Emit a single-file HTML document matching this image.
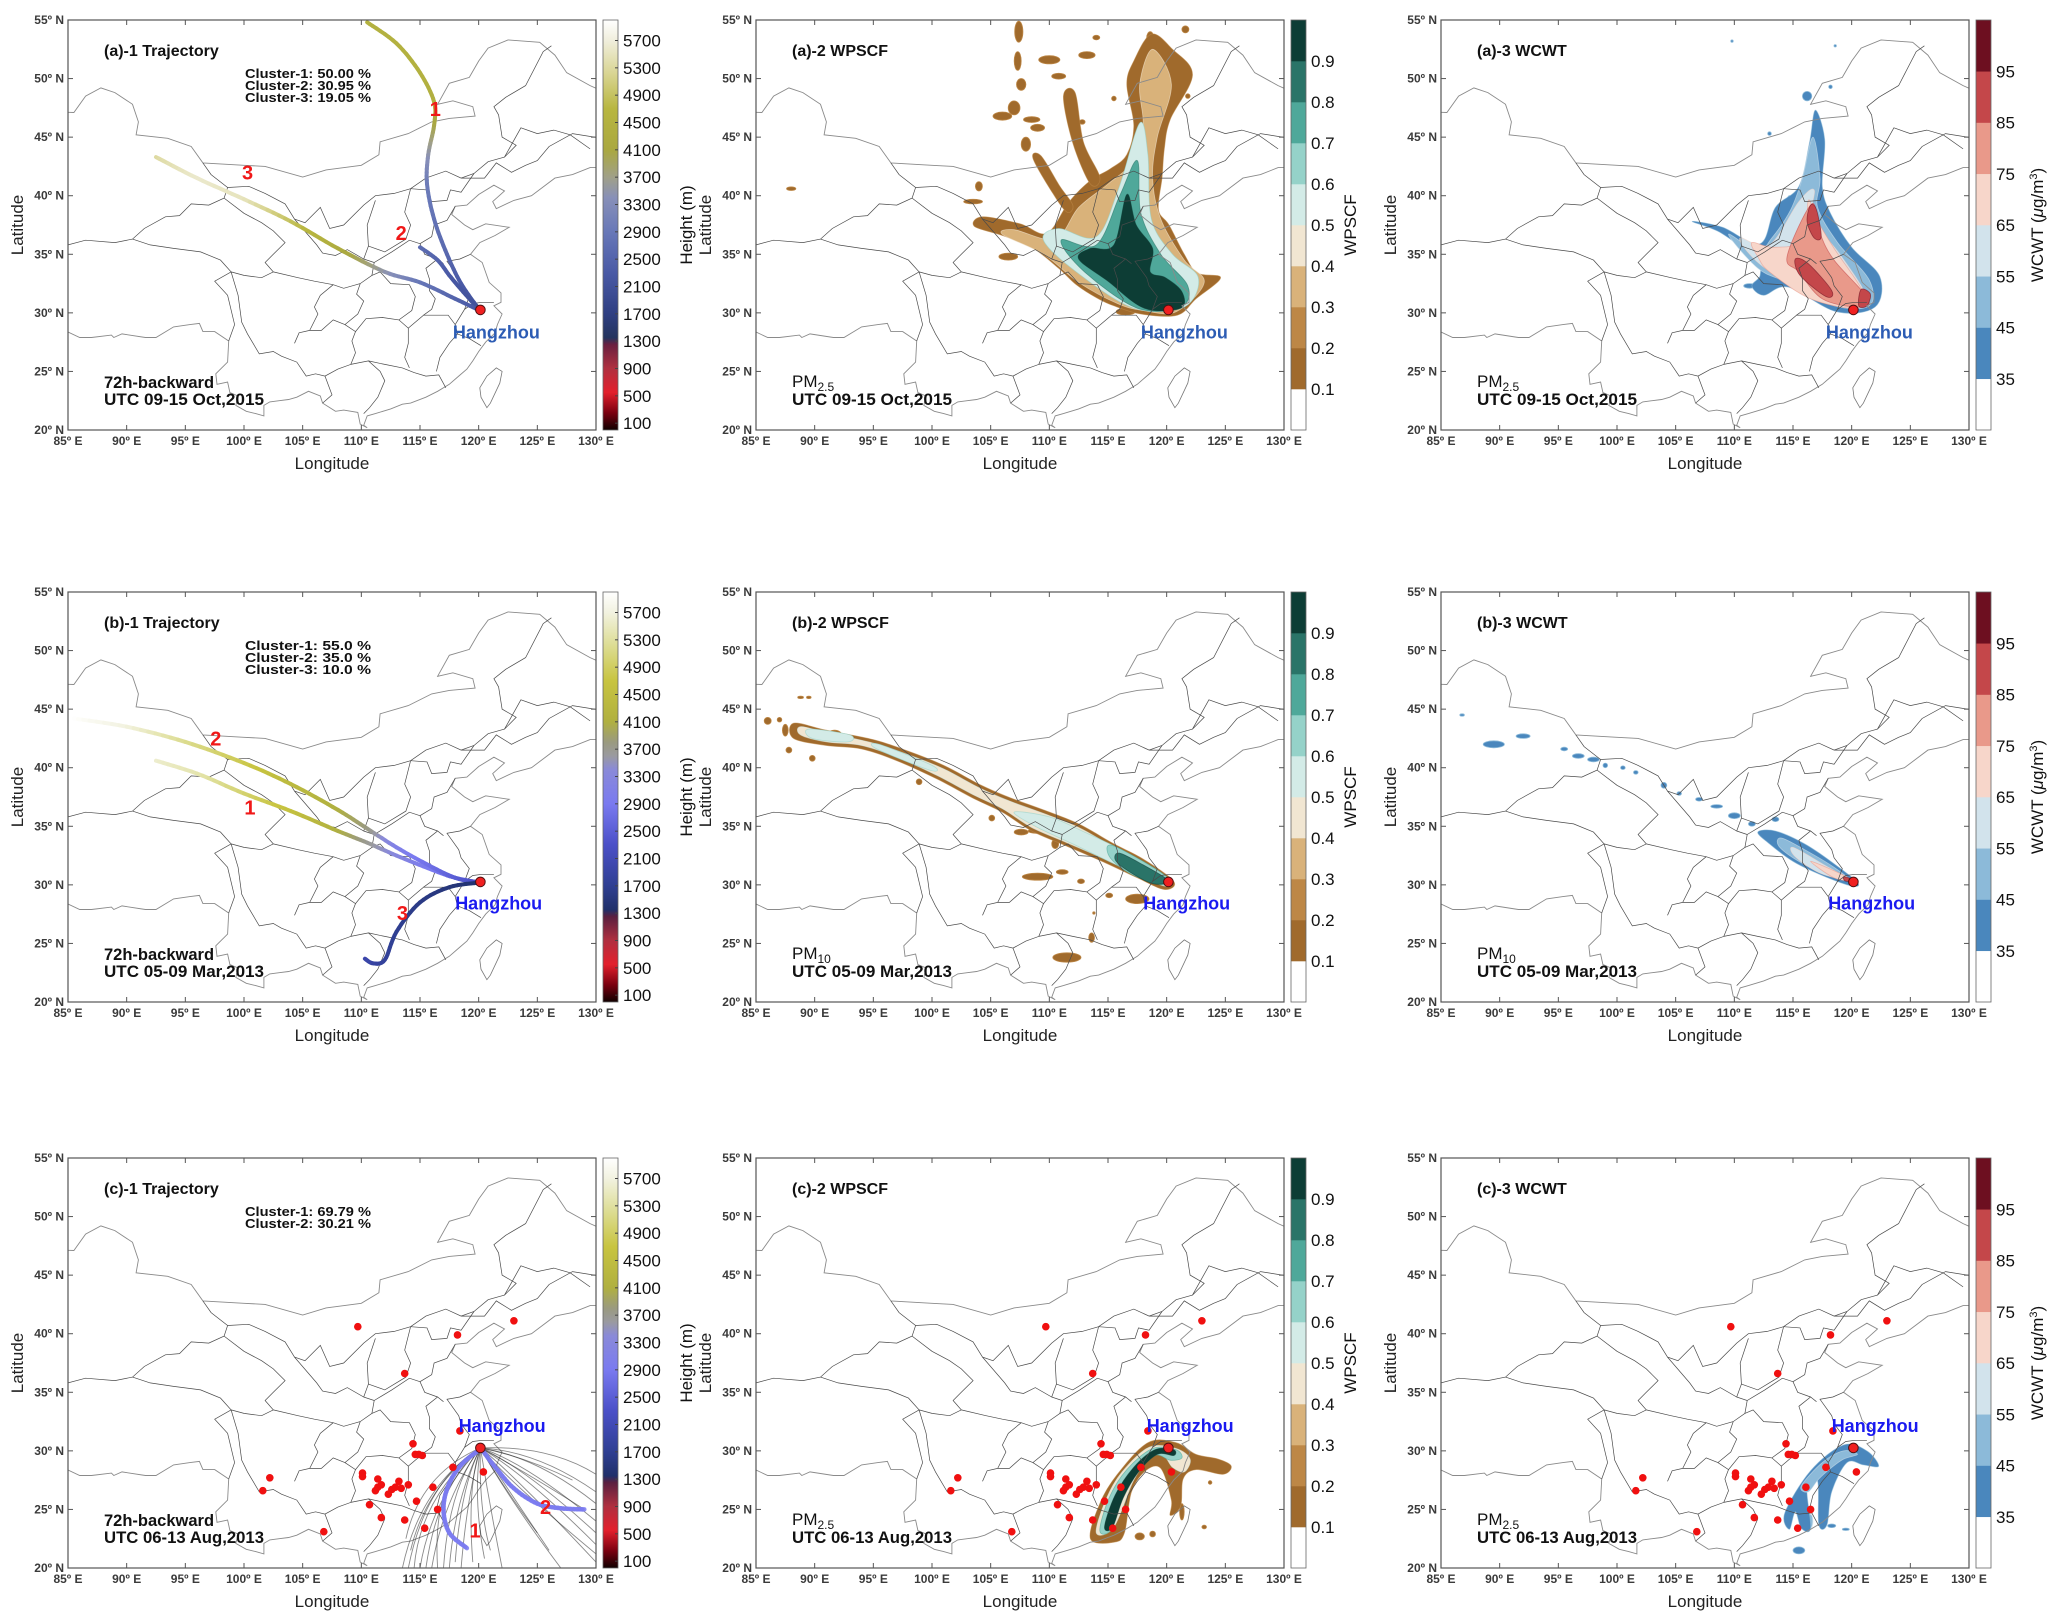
<!DOCTYPE html>
<html><head><meta charset="utf-8"><style>
html,body{margin:0;padding:0;background:#fff;}
svg{display:block;font-family:"Liberation Sans",sans-serif;}
</style></head><body>
<svg id="fig" width="2055" height="1624" viewBox="0 0 2055 1624" xmlns="http://www.w3.org/2000/svg"></svg>
<script>
// ---------------- DATA ----------------
const lonTicks=[85,90,95,100,105,110,115,120,125,130];
const latTicks=[20,25,30,35,40,45,50,55];
const trajCbLabels=[100,500,900,1300,1700,2100,2500,2900,3300,3700,4100,4500,4900,5300,5700];
const pscfCbLabels=[0.1,0.2,0.3,0.4,0.5,0.6,0.7,0.8,0.9];
const cwtCbLabels=[35,45,55,65,75,85,95];
const hangzhou=[120.15,30.25];
// a-1 trajectories [lon,lat,height]
const a1c1=[[110.5,54.8,4500],[113,53,4500],[115,50.5,4500],[116.2,48,4400],[116.2,46,4100],[115.7,43.5,3500],[115.6,41,3000],[116.2,38,2800],[117.3,35,2600],[118.5,32.5,2300],[120.1,30.2,2100]];
const a1c2=[[115,35.6,2700],[116.5,34.5,2500],[117.5,33.2,2300],[118.5,32,2200],[120.1,30.2,2100]];
const a1c3=[[92.5,43.3,5300],[96,41.5,5600],[100,39.7,5500],[104,37.8,4900],[108,35.5,4300],[112,33.5,3500],[115,32.6,2900],[118,31.2,2500],[120.1,30.2,2200]];
// b-1 trajectories
const b1c1=[[92.5,40.6,5600],[96,39.5,5400],[100,37.8,5000],[104,36.3,4600],[108,34.6,4100],[110.5,33.6,3700],[113,32.5,3300],[116,31.3,2900],[118,30.6,2600],[120.1,30.2,2300]];
const b1c2=[[85.5,44.2,6000],[90,43.5,5700],[95,42.2,5200],[100,40.4,4800],[104,38.6,4400],[108,36.4,4100],[110.5,34.8,3800],[113,33.2,3100],[115.5,31.8,2800],[118,30.6,2500],[120.1,30.2,2200]];
const b1c3=[[110.3,23.7,2000],[111,23.3,1900],[112,23.6,1800],[113,26,1700],[115,28.5,1600],[117.5,29.8,1500],[120.1,30.2,1400]];
// c-1 clusters
const c1c1=[[120.2,30.2,2300],[118.5,28.8,2500],[117.4,27,2700],[117,25,2800],[117.5,23,2800],[119,21.7,2800]];
const c1c2=[[120.2,30.2,2300],[121.5,28.5,2500],[123,26.8,2600],[125,25.5,2700],[127,25.1,2800],[129,25,2900]];
// c-1 individual trajectories: end lon, end lat, control lon, control lat
const bundleEndLon=[113.5,114,114.5,115,115.5,116,116.5,117,117.5,118,118.5,119.5,120.5,121,113.8,114.2,130,130,130,130,130,129,130,130,128,130,125,126,127,122];
const bundleEndLat=[20,20,20,20,20,20,20,20,20,20.5,20,20.5,20.8,21.5,22.5,21.5,20.5,21.2,22,23,24,25,25.5,26.5,27.5,28,23,21.5,20,20];
const bundleCtlLon=[115,115.5,115,116,116.5,117,116,117.5,118,118.5,119,119,119.5,120,115,115.5,123,123,124,124,124,123.5,125,125,124,126,122,123,122.5,121];
const bundleCtlLat=[27,27.5,26,26,27,26,28,27,26,27,26,27,26,25,28,27,28,27,28,28.5,29,28.5,29.5,30,29.5,30.5,27,26,26,25];
// pollution sites (lon, lat)
const siteLon=[109.7,123.0,118.2,113.7,118.4,114.4,114.9,114.6,115.2,117.8,120.4,110.1,110.1,111.4,111.4,111.7,111.2,113.2,112.9,112.6,112.3,113.4,114.0,116.1,114.7,116.5,110.7,111.7,113.7,115.4,106.8,102.2,101.6];
const siteLat=[40.6,41.1,39.9,36.6,31.7,30.6,29.7,29.7,29.6,28.6,28.2,28.1,27.8,27.6,26.9,27.1,26.6,27.4,26.9,26.7,26.3,26.8,27.1,26.9,25.7,25.0,25.4,24.3,24.1,23.4,23.1,27.7,26.6];
// contour regions: level index + lon/lat vertices
const a2Regions=[
 {lvl:1,pts:[[120.9,29.8],[122.5,31.2],[124.6,33.0],[122.6,33.4],[121.5,35],[120.2,37.5],[119.3,38.8],[119.6,41.5],[119.8,44],[120.3,46.5],[122.2,50.3],[120.5,52.5],[118.7,53.8],[117.2,51.5],[116.6,49.5],[117.2,46],[116.6,43.5],[115.2,42.3],[113.5,41.3],[111.7,39.5],[109.8,36.8],[107.5,37.6],[104.3,38.2],[103.6,37.4],[106,36.6],[108.5,35.6],[110.8,33.8],[112.3,32.4],[114,31.3],[115.5,30.6],[117.8,29.9]]},
 {lvl:3,pts:[[120.8,30.1],[123.2,32.6],[121.5,34.5],[119.5,38],[118.8,41.5],[119.2,45],[120.4,49.5],[118.8,52.5],[117.7,49.5],[118,46],[117.2,43],[115,41],[112.5,39],[110.5,36.3],[107,37.1],[106,36.7],[109.5,35],[112.5,32.6],[115.8,30.8],[118,30.2]]},
 {lvl:5,pts:[[117.7,46.2],[118.4,43.5],[118.7,38],[120.5,35],[122.7,33],[121.5,30.5],[117.2,30.4],[112.3,33.5],[109.5,36.2],[110.8,37.2],[114,36.5],[115.9,40.6]]},
 {lvl:7,pts:[[117.5,43],[117.8,38.5],[119.5,35],[121.8,32.3],[121.2,30.5],[117.5,30.4],[113,33.5],[111,36.2],[114,35.8],[116,40]]},
 {lvl:9,pts:[[116.6,40.1],[117.4,37.5],[118.8,35.5],[118.6,33.5],[119.9,33.0],[121.3,31.8],[121.2,30.4],[118.1,30.4],[115,32.7],[112.5,34.6],[113.5,35.5],[115.5,35.8]]},
 {lvl:1,pts:[[111.2,48.5],[112,44.5],[113.5,41],[114.3,41.6],[112.9,44.6],[112.2,48.8]]},
 {lvl:1,pts:[[108.6,43.2],[110.3,40.2],[111.5,38.6],[112,39.2],[110.9,40.8],[109.3,43.4]]}];
const a2Blobs=[[107.4,54.0,0.35,0.9,1],[107.3,51.5,0.3,0.8,1],[107.6,49.5,0.4,0.5,1],[110,51.6,0.9,0.35,1],[110.8,50.2,0.6,0.25,1],[107.0,47.5,0.5,0.6,1],[108.5,46.5,0.7,0.25,1],[106,46.8,0.8,0.35,1],[109,45.8,0.6,0.3,1],[108.0,44.4,0.4,0.6,1],[88,40.6,0.4,0.15,1],[104,40.8,0.3,0.4,1],[103.5,39.5,0.8,0.2,1],[118.6,53.5,0.3,0.5,1],[121.6,54.2,0.3,0.3,1],[114,53.5,0.3,0.2,1],[113.2,52,0.7,0.3,1],[112.8,46.3,0.25,0.2,1],[115.5,48.3,0.2,0.2,1],[121.8,48.5,0.2,0.2,1],[106.5,34.8,0.8,0.3,1],[116.5,30.1,0.8,0.3,1]];
const a3Regions=[
 {lvl:1,pts:[[106.4,37.8],[108.9,36.8],[111.8,34.5],[112.2,33.2],[111.5,32.3],[112.5,31.5],[114.6,32.2],[118.7,30.1],[122,30.5],[122.4,33.1],[120,35.6],[118.2,38.5],[117.5,40.8],[117.7,44.8],[116.9,47.3],[116.4,44.5],[115.5,40.8],[113.5,39],[112.2,35.9],[109,37.3]]},
 {lvl:2,pts:[[109.5,36.7],[112,35.3],[113.2,36.4],[114.8,38.8],[115.8,41.5],[116.7,45],[117.3,41.5],[117.1,39],[118.8,36],[121.5,32.8],[121.5,30.6],[118.5,30.6],[114.5,32.6],[112,33.8]]},
 {lvl:3,pts:[[110.5,36.4],[113,35.8],[115.5,39.5],[116.8,40.5],[116.7,38],[119,35],[121.2,31.5],[120.3,30.5],[117,31.2],[113.5,33.2],[111.5,34.8]]},
 {lvl:4,pts:[[111.5,36],[113.3,35.6],[115.9,36.2],[116.3,39.6],[117,38],[118.5,35.5],[121,31.7],[120.4,30.4],[116.5,31.2],[113,33.5],[112,34.8]]},
 {lvl:5,pts:[[114.5,34.8],[116.6,39.3],[117.3,36.8],[118.5,34.5],[121.4,31.2],[120.5,30.5],[117.5,31.2],[115.5,33.5]]},
 {lvl:6,pts:[[115.2,34.6],[116.3,34.2],[118.3,31.9],[117.8,31.4],[115.6,33.2]]},
 {lvl:6,pts:[[116.5,39.2],[117,38.8],[117.4,36.5],[116.8,36.4],[116.2,37.8]]},
 {lvl:6,pts:[[120.8,32],[121.6,31.6],[121.3,30.6],[120.6,30.6]]}];
const a3Blobs=[[116.2,48.5,0.4,0.4,1],[118.2,49.3,0.15,0.15,1],[113,45.3,0.15,0.15,1],[109.8,53.2,0.1,0.1,1],[118.6,52.8,0.1,0.1,1],[114.7,39.6,0.2,0.4,1],[113.6,37.5,0.2,0.4,1],[111.3,32.3,0.5,0.2,1],[117.4,36.8,0.4,0.25,3]];
const b2Regions=[
 {lvl:1,pts:[[88.2,43.8],[91,43.2],[95,42.4],[98,41.4],[101,40.2],[104,38.6],[106.5,37.5],[109.5,36.4],[112.5,35.2],[115.5,33.5],[118,32.2],[120.6,30.3],[119.8,29.6],[117.5,30.6],[114.5,32],[111.5,33.3],[108.5,34.6],[106,36.2],[103.5,37.4],[100.5,39],[97,40.6],[94,41.6],[91,41.9],[88.2,42.5]]},
 {lvl:4,pts:[[88.8,43.5],[91,43],[95,42.1],[98,41.1],[101,39.9],[104,38.3],[106.5,37.2],[109.5,36.1],[112.5,34.9],[115.5,33.2],[118,31.9],[120.3,30.3],[119.8,29.9],[117.5,30.9],[114.5,32.3],[111.5,33.6],[108.5,34.9],[106,36.5],[103.5,37.7],[100.5,39.3],[97,40.9],[94,41.9],[91,42.2],[88.8,42.8]]},
 {lvl:5,pts:[[89.5,43.3],[93,42.8],[92.8,42.2],[89.8,42.5]]},
 {lvl:5,pts:[[95.5,42],[100,40.2],[99.8,39.8],[95.3,41.6]]},
 {lvl:5,pts:[[107,36.2],[110,35.8],[113,34.5],[116.5,32.8],[119.5,30.8],[119.9,30.2],[118.5,30.4],[115.5,31.8],[112,33.5],[109,34.9]]},
 {lvl:6,pts:[[115.2,33.4],[118,32],[120.2,30.5],[119.6,30],[117,30.9],[115.2,32.3]]},
 {lvl:8,pts:[[116,32.7],[118,31.7],[120,30.5],[119.8,30.1],[118.5,30.2],[116.4,31.4],[115.6,32.2]]}];
const b2Blobs=[[86,44,0.3,0.3,1],[87,44.1,0.2,0.2,1],[87.5,43.2,0.25,0.5,1],[87.8,41.5,0.25,0.25,1],[89.8,40.8,0.25,0.25,1],[88.8,46,0.25,0.1,1],[89.5,46,0.2,0.1,1],[91.7,42.8,0.6,0.4,1],[98.9,38.8,0.25,0.25,1],[105.1,35.7,0.25,0.25,1],[107.6,34.5,0.6,0.25,1],[108.9,34.6,0.7,0.2,1],[110.5,33.5,0.3,0.4,1],[109,30.7,1.3,0.3,1],[111.1,31.1,0.5,0.2,1],[112.7,30.3,0.3,0.2,1],[117.5,28.8,1,0.4,1],[115.1,29.1,0.3,0.2,1],[113.6,25.5,0.25,0.4,1],[111.5,23.8,1.2,0.4,1],[113.8,27.6,0.1,0.1,1]];
const b3Regions=[
 {lvl:1,pts:[[113.5,34.6],[116,33.5],[118.5,31.8],[120.5,30.2],[120,29.9],[117.5,30.8],[115,32],[113,33.5],[112,34.5]]},
 {lvl:2,pts:[[114,34],[116,33],[118.5,31.5],[119.8,30.4],[118,30.8],[115.5,32],[113.8,33.3]]},
 {lvl:3,pts:[[115,33.2],[117.5,31.8],[119.6,30.5],[117.3,31],[115.2,32.4]]},
 {lvl:4,pts:[[116.5,32],[118.5,31.2],[120,30.4],[118.5,30.6]]},
 {lvl:6,pts:[[119.3,30.7],[120.2,30.4],[119.5,30.3]]}];
const b3Blobs=[[89.5,42,0.9,0.3,1],[92,42.7,0.6,0.2,1],[96.7,41,0.5,0.2,1],[98,40.7,0.5,0.2,1],[95.5,41.6,0.3,0.15,1],[99,40.2,0.2,0.2,1],[100.5,40,0.2,0.15,1],[101.6,39.6,0.2,0.15,1],[104,38.5,0.25,0.25,1],[105.3,37.8,0.2,0.15,1],[107,37.3,0.3,0.15,1],[108.5,36.7,0.5,0.15,1],[110,35.9,0.5,0.25,1],[111.5,35.2,0.3,0.2,1],[86.8,44.5,0.2,0.1,1],[113.5,35.6,0.3,0.2,1],[112.8,34.3,0.6,0.3,1]];
const c2Regions=[
 {lvl:1,pts:[[113.5,22.5],[114.3,25.5],[115.8,28],[118.4,30.7],[120.8,30.7],[122.5,29.7],[124.4,29.3],[125.5,28.7],[124.8,28],[122.5,28.4],[121.4,27.6],[121.2,25.3],[120.3,24.5],[120.4,25.8],[119.5,28.5],[118.2,28.3],[117,26.5],[116.4,23],[115.5,22.2]]},
 {lvl:4,pts:[[114,23],[114.8,25.8],[116.2,28.2],[118.5,30.3],[120.8,30.2],[122,29.3],[121.5,28.2],[120.5,28.6],[119.8,29.5],[118.7,29.5],[117.2,27.5],[115.5,23.5]]},
 {lvl:6,pts:[[114.3,23.2],[115.1,26],[116.6,28.4],[118.8,30.2],[120.8,30.1],[121.3,29.4],[120.3,29.2],[119,29.6],[117.3,28],[116,25.5],[115.2,23.2]]},
 {lvl:9,pts:[[114.7,23.5],[115.6,26.2],[117.2,28.6],[119,30.1],[120.6,30.1],[120.6,29.6],[119.2,29.7],[117.6,28.2],[116.3,26],[115.4,23.5]]}];
const c2Blobs=[[117.7,22.7,0.4,0.3,1],[118.8,22.9,0.25,0.25,1],[123.2,23.5,0.2,0.15,1],[121.3,24.8,0.2,0.7,1],[123.7,27.3,0.15,0.15,1]];
const c3Regions=[
 {lvl:1,pts:[[114.3,24.7],[116.5,28.3],[119.3,30.5],[121.3,30.0],[122.3,28.7],[121,28.8],[119.6,29],[118.3,26.5],[117.9,23.7],[117.2,23.7],[117.1,27.4],[116.2,26.8],[116.5,23.4],[115.7,23.4],[115.2,24.8],[114.7,23.3]]},
 {lvl:2,pts:[[115.7,27],[117.5,29],[119.3,30],[120.5,29.7],[119.3,29.3],[118.2,28.5],[117.2,27.6],[116.3,26.5]]}];
const c3Blobs=[[115.5,21.5,0.5,0.3,1],[118.3,23.6,0.35,0.15,1],[119.5,23.3,0.3,0.1,1],[116.5,24,0.2,0.6,2],[117.8,28.4,0.3,0.4,3]];
// ---------------- MAP GEOMETRY ----------------
const chinaOutline=[[73.5,39.5],[75,40.6],[80,42.2],[80.3,44.8],[82.5,45.3],[83,47.2],[85.5,47.1],[86.5,48.5],[87.8,49.2],[89,48.8],[90.5,47.8],[91,46.3],[90.8,45.2],[93.5,44.9],[95.5,44.2],[96.5,42.8],[100,42.6],[101.8,42.5],[105,41.6],[107,42.2],[110,42.6],[111.5,43.5],[111.6,44.6],[114,45.3],[116,46.3],[117.5,46.6],[119.7,46.8],[119.5,47.6],[117.8,48.1],[116.5,47.8],[117.5,49.6],[119.2,50.1],[120,51.5],[120.8,52.6],[122.5,53.3],[125.2,53.1],[126.5,52],[127.5,50.5],[129.5,49.4],[130.8,48.8],[130.7,47.6],[132.5,47.7],[134.7,48.3],[134,46.5],[133,45],[131.2,45],[131,43.5],[130.6,42.4],[129.5,42.4],[128,41.8],[126.5,41.5],[124.5,40],[123,39.6],[121.5,38.9],[121.2,39.5],[122.2,40.4],[121.3,40.9],[120,40.1],[119,39.2],[118,39.1],[117.7,38.4],[118.8,37.5],[119.5,37.1],[120.6,37.6],[122.6,37.3],[121.4,36.6],[120.1,36],[119.3,35],[120.3,34.3],[120.9,32.6],[121.9,31.7],[121.9,30.9],[121.3,30.6],[122,29.9],[121.6,29],[121.4,28.3],[120.6,27.5],[120,26.7],[119.5,25.9],[119,25.2],[118.3,24.6],[117.5,23.9],[116.5,23.3],[115.5,22.8],[114.2,22.3],[113.5,22.2],[112.5,21.8],[111.2,21.4],[110.5,21.2],[110.2,20.4],[110.5,20.2],[109.9,20.5],[109.7,21.5],[108.5,21.7],[107.8,21.6],[106.7,22.3],[106.5,22.9],[105.5,23.3],[104.5,22.8],[103.8,22.6],[103,22.5],[102.2,22.4],[101.7,22.1],[101.7,21.2],[101,21.4],[100.2,21.6],[99.3,22.1],[99.5,22.9],[98.8,23.2],[98.6,24.1],[97.7,23.9],[97.6,24.8],[98.6,25.8],[98.7,27.6],[97.5,28.4],[96.5,28.4],[96.2,29.1],[95.4,29],[94,28.8],[92.5,27.9],[91.6,27.9],[89.6,28.2],[88.9,27.9],[88.7,28.1],[87,27.9],[86,27.9],[84.5,28.6],[82,30.2],[81,30.2],[79,31.5],[78.8,32.5],[79.5,34.5],[77.8,35.5],[76,36.6],[75,37.3],[73.5,39.5]];
const taiwan=[[121.5,25.3],[122,25],[121.8,24],[121,22.3],[120.7,21.9],[120.2,22.8],[120.1,23.6],[120.7,24.6]];
const provLines=[
[[85,35.8],[86.5,36.2],[89,36],[90.5,36.3],[91.5,37.2],[93.3,38.2],[94.5,38.3],[95.5,39.3],[97,39.2],[98.3,39.8],[98.6,40.7],[97.2,41.8],[96.5,42.8]],
[[90.5,36.3],[92,35.8],[94,35.5],[96.3,35.2],[98,34.5],[98.9,33.5],[97.5,32.7],[98.6,31.5],[99.2,29],[98.7,27.6]],
[[98.3,39.8],[100,38.5],[101.5,37.7],[102.5,37],[103.5,36],[102.5,35],[101.8,34.3],[102.5,33.5],[101.5,33],[100,33.2],[98.9,33.5]],
[[98.6,40.7],[100.4,40.8],[101.8,40.2],[103.5,39.3],[104.3,38],[105.2,37.7],[106.5,39],[107.3,37.2],[108.5,37.5],[110.2,39.2],[111.2,40],[112.8,40.2],[114.2,40.6],[115.5,41.5],[117.2,42.1],[118.5,41.5],[119.6,41.9],[120.8,42.9],[122.2,43.3],[123.2,44.3],[122,45],[121.7,46.9],[121.3,47.6],[122.3,48.4],[124,49.4],[125.5,52.3],[126.2,52.8]],
[[104.3,38],[106.2,35.8],[106.7,35.1],[107.8,34.9],[108.8,35.4],[110.2,34.6],[110.6,35.7],[110.5,37.5],[111.2,39.6]],
[[102.5,33.5],[104.6,33],[106,32.7],[107.6,32.4],[108.5,32.1],[109.9,32.5],[110.9,33.2],[111.1,34.3],[110.2,34.6]],
[[98.9,33.5],[99.5,31.5],[99.8,29.2],[100.3,28.2],[101.3,26.5],[102.5,26.7],[103.2,26.3],[104.5,25.8],[105.3,24.6],[106.1,24.8],[106.9,24.6],[108,25.2],[109.1,25.6],[109.5,26.6],[109.2,27.6],[109.5,28.4],[108.6,29],[107.6,29.4],[106.6,28.5],[105.6,28.5],[104.7,28.3],[104.3,27.4]],
[[105.6,28.5],[106.3,29.9],[106,30.5],[106.5,31.5],[107.6,32.4]],
[[108.6,29],[109.7,29.9],[110.2,31],[109.6,31.6],[109.9,32.5]],
[[106.9,24.6],[107.5,23],[106.7,22.3]],
[[109.1,25.6],[110.6,25.9],[111.6,25],[112,24.2],[111.4,22.8],[110.7,21.9],[110.2,21.4]],
[[110.6,25.9],[112,25.6],[113.5,25.3],[114.5,24.9],[115.5,24.6],[116.6,24.7],[117.2,23.6]],
[[109.5,28.4],[110.4,29.5],[111.8,29.6],[113.2,29.4],[114,28.7],[114,27.4],[113.7,26.2],[114.1,25.3]],
[[114,28.7],[115.3,29.8],[116.3,29.8],[117.4,29.8],[118,29],[118.2,28.2],[117.5,27.4],[116.7,26.2],[116.4,25]],
[[118.2,28.2],[119.2,27.8],[120.2,27.2]],
[[113.2,29.4],[114.3,30.2],[114.6,31.4],[114.1,32.4],[112.5,32.5],[111.6,33.5],[110.9,33.2]],
[[115.3,29.8],[116,30.3],[116.3,31.2],[115.8,31.9],[115.8,32.9],[115.5,33.8],[116.5,34.6],[117,34.2]],
[[118,29],[118.8,30.3],[119.5,30.8],[120.3,30.9],[121.3,30.9]],
[[118.8,30.3],[119.2,31.4],[118.5,32.3],[118.3,33],[117.3,34.4],[118.4,34.6],[119.3,35]],
[[116.5,34.6],[115.4,35],[115,35.9],[116,36.5],[116.2,37.5],[117.3,37.9],[118,39.1]],
[[110.6,35.7],[112,35.2],[113.8,36.3],[114.2,37.5],[113.7,38.6],[114.2,40.6]],
[[111.1,34.3],[112.6,35.2],[114.1,36.2],[115,35.9]],
[[114.2,40.6],[115.6,40.5],[116,39.5],[117.3,39.6],[117.6,40.5],[118.5,40.3],[119.6,41.9]],
[[118.5,41.5],[120.5,41.5],[121.5,42.8],[122.8,42],[124,42.6],[125,43],[126,44.2],[128,45.3],[130.5,44.9]],
[[122.2,43.3],[123.6,45.8],[125,45.3],[126.4,45.6],[127.8,45.2],[129.5,44]]];
// colour scales
const pscfColors=['#ffffff','#a06a2c','#bd8746','#d9b27a','#f1e6d2','#d3ebe7','#95d2c9','#4fa89a','#2a7468','#0d3d35'];
const cwtColors=['#ffffff','#4a87bd','#8cbad9','#d2e3ec','#f7d6ca','#e9998a','#c4474a','#6d0f20'];
const trajStopsA=[[0,'#100000'],[250,'#7a0010'],[550,'#e3202c'],[900,'#b03040'],[1250,'#6a2040'],[1350,'#24345e'],[1700,'#2f3f82'],[2300,'#4a5aa6'],[2900,'#6878b8'],[3400,'#8890b8'],[3700,'#a0a088'],[4100,'#aaa840'],[4700,'#b8b640'],[5200,'#d8d490'],[5700,'#f0eedc'],[6000,'#ffffff']];
const trajStopsB=[[0,'#100000'],[250,'#7a0010'],[550,'#e3202c'],[900,'#b03040'],[1250,'#5a2040'],[1350,'#20306a'],[1700,'#2f3f92'],[2300,'#4b50c8'],[2900,'#7a7af0'],[3400,'#8a8ad8'],[3600,'#9a9aa0'],[3800,'#9a9a80'],[4100,'#b0b040'],[4700,'#c8c440'],[5200,'#dcdc90'],[5700,'#f2f2e0'],[6000,'#ffffff']];

// ---------------- HELPERS ----------------
const NS='http://www.w3.org/2000/svg';
const svg=document.getElementById('fig');
function el(tag,attrs,parent){const e=document.createElementNS(NS,tag);for(const k in attrs)e.setAttribute(k,attrs[k]);(parent||svg).appendChild(e);return e;}
const W=528,H=410;
const colX=[68,756,1441], rowY=[20,592,1158];
function proj(P,lon,lat){return [P.x+(lon-85)/45*W, P.y+(55-lat)/35*H];}
function r1(v){return Math.round(v*10)/10;}
function smooth(p,closed){
  const n=p.length;let d='M'+r1(p[0][0])+','+r1(p[0][1]);
  const g=i=>closed?p[(i+n)%n]:p[Math.max(0,Math.min(n-1,i))];
  const segs=closed?n:n-1;
  for(let i=0;i<segs;i++){const a=g(i-1),b=g(i),c=g(i+1),e=g(i+2);
    d+='C'+r1(b[0]+(c[0]-a[0])/6)+','+r1(b[1]+(c[1]-a[1])/6)+' '+r1(c[0]-(e[0]-b[0])/6)+','+r1(c[1]-(e[1]-b[1])/6)+' '+r1(c[0])+','+r1(c[1]);}
  return closed?d+'Z':d;}
function poly(p){return 'M'+p.map(q=>r1(q[0])+','+r1(q[1])).join('L');}
function hex2rgb(h){return [parseInt(h.substr(1,2),16),parseInt(h.substr(3,2),16),parseInt(h.substr(5,2),16)];}
function cmap(stops,v){v=Math.max(stops[0][0],Math.min(stops[stops.length-1][0],v));
  for(let i=1;i<stops.length;i++){if(v<=stops[i][0]){const t=(v-stops[i-1][0])/(stops[i][0]-stops[i-1][0]||1);
    const a=hex2rgb(stops[i-1][1]),b=hex2rgb(stops[i][1]);return 'rgb('+a.map((x,k)=>Math.round(x+(b[k]-x)*t)).join(',')+')';}}
  return stops[stops.length-1][1];}

// ---------------- PANELS ----------------
const panels=[
 {id:'a1',r:0,c:0,type:'traj',title:'(a)-1  Trajectory',stops:trajStopsA,clusters:['Cluster-1: 50.00 %','Cluster-2: 30.95 %','Cluster-3: 19.05 %'],bottom1:'72h-backward',bottom2:'UTC 09-15 Oct,2015',hzColor:'#2c5cb4',hzPos:[117.8,27.8],tr:[a1c1,a1c2,a1c3],nums:[['1',116.3,47.4],['2',113.4,36.8],['3',100.3,42.0]]},
 {id:'a2',r:0,c:1,type:'pscf',title:'(a)-2  WPSCF',regions:a2Regions,blobs:a2Blobs,pm:'2.5',bottom2:'UTC 09-15 Oct,2015',hzColor:'#2c5cb4',hzPos:[117.8,27.8]},
 {id:'a3',r:0,c:2,type:'cwt',title:'(a)-3  WCWT',regions:a3Regions,blobs:a3Blobs,pm:'2.5',bottom2:'UTC 09-15 Oct,2015',hzColor:'#2c5cb4',hzPos:[117.8,27.8]},
 {id:'b1',r:1,c:0,type:'traj',title:'(b)-1  Trajectory',stops:trajStopsB,clusters:['Cluster-1: 55.0 %','Cluster-2: 35.0 %','Cluster-3: 10.0 %'],bottom1:'72h-backward',bottom2:'UTC 05-09 Mar,2013',hzColor:'#1a1af0',hzPos:[118.0,27.9],tr:[b1c1,b1c2,b1c3],nums:[['2',97.6,42.5],['1',100.5,36.6],['3',113.5,27.6]]},
 {id:'b2',r:1,c:1,type:'pscf',title:'(b)-2  WPSCF',regions:b2Regions,blobs:b2Blobs,pm:'10',bottom2:'UTC 05-09 Mar,2013',hzColor:'#1a1af0',hzPos:[118.0,27.9]},
 {id:'b3',r:1,c:2,type:'cwt',title:'(b)-3  WCWT',regions:b3Regions,blobs:b3Blobs,pm:'10',bottom2:'UTC 05-09 Mar,2013',hzColor:'#1a1af0',hzPos:[118.0,27.9]},
 {id:'c1',r:2,c:0,type:'traj',title:'(c)-1  Trajectory',stops:trajStopsB,clusters:['Cluster-1: 69.79 %','Cluster-2: 30.21 %'],bottom1:'72h-backward',bottom2:'UTC 06-13 Aug,2013',hzColor:'#1a1af0',hzPos:[118.3,31.6],tr:[c1c1,c1c2],bundle:true,sites:true,nums:[['1',119.7,23.2],['2',125.7,25.2]]},
 {id:'c2',r:2,c:1,type:'pscf',title:'(c)-2  WPSCF',regions:c2Regions,blobs:c2Blobs,pm:'2.5',bottom2:'UTC 06-13 Aug,2013',hzColor:'#1a1af0',hzPos:[118.3,31.6],sites:true},
 {id:'c3',r:2,c:2,type:'cwt',title:'(c)-3  WCWT',regions:c3Regions,blobs:c3Blobs,pm:'2.5',bottom2:'UTC 06-13 Aug,2013',hzColor:'#1a1af0',hzPos:[118.3,31.6],sites:true}];

const defs=el('defs',{});
panels.forEach(cfg=>{
  const P={x:colX[cfg.c],y:rowY[cfg.r]};
  const g=el('g',{});
  
  
  const cp=el('clipPath',{id:'clip-'+cfg.id},defs);
  el('rect',{x:P.x,y:P.y,width:W,height:H},cp);
  const plot=el('g',{'clip-path':'url(#clip-'+cfg.id+')'},g);
  
  
  const colors=cfg.type==='pscf'?pscfColors:cwtColors;
  if(cfg.regions){
    const cg=el('g',{},plot);
    
    
    cfg.blobs.forEach(b=>{const c=proj(P,b[0],b[1]);
      const e=el('ellipse',{cx:r1(c[0]),cy:r1(c[1]),rx:r1(b[2]*W/45),ry:r1(b[3]*H/35),fill:colors[b[4]],stroke:colors[Math.min(b[4]+1,colors.length-1)],'stroke-width':0.8},cg);
      
      });
    cfg.regions.forEach(rg=>{const pts=rg.pts.map(q=>proj(P,q[0],q[1]));
      const e=el('path',{d:smooth(pts,true),fill:colors[rg.lvl],stroke:colors[Math.min(rg.lvl+1,colors.length-1)],'stroke-width':0.8,'stroke-opacity':0.6},cg);
      
      });
  }
  const bg=el('g',{fill:'none'},plot);
  
  
  el('path',{d:poly(chinaOutline.map(q=>proj(P,q[0],q[1]))),stroke:'#8a8a8a','stroke-width':0.9},bg);
  el('path',{d:poly(taiwan.map(q=>proj(P,q[0],q[1])))+'Z',stroke:'#777','stroke-width':0.8},bg);
  provLines.forEach(l=>el('path',{d:poly(l.map(q=>proj(P,q[0],q[1]))),stroke:'#4a4a4a','stroke-width':0.7},bg));
  if(cfg.bundle){
    const tg=el('g',{fill:'none',stroke:'rgba(40,40,40,0.55)','stroke-width':0.9},plot);
    
    
    const h=proj(P,hangzhou[0],hangzhou[1]);
    bundleEndLon.forEach((lon,i)=>{const e=proj(P,lon,bundleEndLat[i]),c=proj(P,bundleCtlLon[i],bundleCtlLat[i]);
      const p=el('path',{d:'M'+r1(h[0])+','+r1(h[1])+'Q'+r1(c[0])+','+r1(c[1])+' '+r1(e[0])+','+r1(e[1])},tg);
      
      });
  }
  if(cfg.tr){
    cfg.tr.forEach((t,ti)=>{
      const tg=el('g',{'stroke-width':cfg.bundle?4.5:4,'stroke-linecap':'round',fill:'none'},plot);
      
      
      const pts=t.map(q=>proj(P,q[0],q[1]));const n=pts.length;
      const gp=i=>pts[Math.max(0,Math.min(n-1,i))];
      for(let i=0;i<n-1;i++){const a=gp(i-1),b=gp(i),c=gp(i+1),e=gp(i+2);
        for(let s=0;s<8;s++){const u0=s/8,u1=(s+1)/8;
          const cr=u=>{const u2=u*u,u3=u2*u;return [0,1].map(k=>0.5*((2*b[k])+(-a[k]+c[k])*u+(2*a[k]-5*b[k]+4*c[k]-e[k])*u2+(-a[k]+3*b[k]-3*c[k]+e[k])*u3));};
          const p0=cr(u0),p1=cr(u1);const hgt=t[i][2]+(t[i+1][2]-t[i][2])*(u0+u1)/2;
          el('line',{x1:r1(p0[0]),y1:r1(p0[1]),x2:r1(p1[0]),y2:r1(p1[1]),stroke:cfg.bundle?cmap(cfg.stops,2900):cmap(cfg.stops,hgt),'stroke-opacity':cfg.bundle?0.85:1},tg);}}
    });
  }
  if(cfg.sites){
    const sg=el('g',{fill:'#f01010'},plot);
    
    
    siteLon.forEach((lon,i)=>{const c=proj(P,lon,siteLat[i]);
      const d=el('circle',{cx:r1(c[0]),cy:r1(c[1]),r:3.8},sg);
      
      });
  }
  const hz=proj(P,hangzhou[0],hangzhou[1]);
  const hd=el('circle',{cx:r1(hz[0]),cy:r1(hz[1]),r:4.8,fill:'#f02020',stroke:'#501010','stroke-width':1},g);
  
  
  const hp=proj(P,cfg.hzPos[0],cfg.hzPos[1]);
  const ht=el('text',{x:r1(hp[0]),y:r1(hp[1]),'font-size':18,'font-weight':'bold',fill:cfg.hzColor},g);
  ht.textContent='Hangzhou';
  
  
  if(cfg.nums){cfg.nums.forEach(nm=>{const c=proj(P,nm[1],nm[2]);
    const t=el('text',{x:r1(c[0]),y:r1(c[1]+7),'font-size':20,'font-weight':'bold',fill:'#f01818','text-anchor':'middle'},g);
    t.textContent=nm[0];
    
    });}
  const fr=el('rect',{x:P.x,y:P.y,width:W,height:H,fill:'none',stroke:'#555','stroke-width':1.2},g);
  
  
  const ax=el('g',{'font-size':12,'font-weight':'bold',fill:'#3a3a3a'},g);
  
  
  lonTicks.forEach(v=>{const x=proj(P,v,20)[0];
    el('line',{x1:x,y1:P.y+H,x2:x,y2:P.y+H-5,stroke:'#555'},ax);
    el('line',{x1:x,y1:P.y,x2:x,y2:P.y+5,stroke:'#555'},ax);
    const t=el('text',{x:x,y:P.y+H+15,'text-anchor':'middle'},ax);t.textContent=v+'º E';
    
    });
  latTicks.forEach(v=>{const y=proj(P,85,v)[1];
    el('line',{x1:P.x,y1:y,x2:P.x+5,y2:y,stroke:'#555'},ax);
    el('line',{x1:P.x+W,y1:y,x2:P.x+W-5,y2:y,stroke:'#555'},ax);
    const t=el('text',{x:P.x-4,y:y+4,'text-anchor':'end'},ax);t.textContent=v+'º N';
    
    });
  const xt=el('text',{x:P.x+W/2,y:P.y+H+39,'text-anchor':'middle','font-size':17,fill:'#222'},g);
  xt.textContent='Longitude';
  
  
  const yt=el('text',{x:0,y:0,'text-anchor':'middle','font-size':17,fill:'#222',transform:'translate('+(P.x-45)+','+(P.y+H/2)+') rotate(-90)'},g);
  yt.textContent='Latitude';
  
  
  const tt=el('text',{x:P.x+36,y:P.y+36,'font-size':16,'font-weight':'bold',fill:'#111'},g);
  tt.textContent=cfg.title;
  
  
  if(cfg.clusters){cfg.clusters.forEach((s,i)=>{const t=el('text',{x:P.x+177,y:P.y+58+i*12,'font-size':12.5,'font-weight':'bold',fill:'#111',textLength:126,lengthAdjust:'spacingAndGlyphs'},g);
    t.textContent=s;
    
    });}
  if(cfg.bottom1){const t=el('text',{x:P.x+36,y:P.y+368,'font-size':16.5,'font-weight':'bold',fill:'#111'},g);
    t.textContent=cfg.bottom1;
    
    }
  if(cfg.pm){const t=el('text',{x:P.x+36,y:P.y+367,'font-size':17,fill:'#111'},g);
    t.textContent='PM';
    
    
    const s=el('tspan',{'font-size':12,dy:4},t);s.textContent=cfg.pm;}
  const dt=el('text',{x:P.x+36,y:P.y+385,'font-size':16.5,'font-weight':'bold',fill:'#111',textLength:160,lengthAdjust:'spacingAndGlyphs'},g);
  dt.textContent=cfg.bottom2;
  
  
  const cb=el('g',{},g);
  
  
  const cx=P.x+W+7, cw=15;
  if(cfg.type==='traj'){
    const gid='grad-'+cfg.id;const lg=el('linearGradient',{id:gid,x1:0,y1:1,x2:0,y2:0},defs);
    cfg.stops.forEach(s=>el('stop',{offset:s[0]/6000,'stop-color':s[1]},lg));
    el('rect',{x:cx,y:P.y,width:cw,height:H,fill:'url(#'+gid+')',stroke:'#666','stroke-width':0.8},cb);
    trajCbLabels.forEach(v=>{const y=P.y+H-v/6000*H;
      el('line',{x1:cx+cw-3,y1:y,x2:cx+cw,y2:y,stroke:'#444'},cb);
      const t=el('text',{x:cx+cw+5,y:y+6,'font-size':17,fill:'#111'},cb);t.textContent=v;
      
      });
  } else if(cfg.type==='pscf'){
    pscfColors.forEach((c,i)=>el('rect',{x:cx,y:P.y+H-(i+1)/10*H,width:cw,height:H/10+0.3,fill:c},cb));
    el('rect',{x:cx,y:P.y,width:cw,height:H,fill:'none',stroke:'#666','stroke-width':0.8},cb);
    pscfCbLabels.forEach(v=>{const y=P.y+H-v*H;
      const t=el('text',{x:cx+cw+5,y:y+6,'font-size':17,fill:'#111'},cb);t.textContent=v.toFixed(1);
      
      });
  } else {
    cwtColors.forEach((c,i)=>el('rect',{x:cx,y:P.y+H-(i+1)/8*H,width:cw,height:H/8+0.3,fill:c},cb));
    el('rect',{x:cx,y:P.y,width:cw,height:H,fill:'none',stroke:'#666','stroke-width':0.8},cb);
    cwtCbLabels.forEach(v=>{const y=P.y+H-(v-25)/80*H;
      const t=el('text',{x:cx+cw+5,y:y+6,'font-size':17,fill:'#111'},cb);t.textContent=v;
      
      });
  }
  const ctx=cfg.type==='traj'?P.x+W+96:(cfg.type==='pscf'?P.x+W+72:P.x+W+74);
  const ct=el('text',{x:0,y:0,'text-anchor':'middle','font-size':17,fill:'#111',transform:'translate('+ctx+','+(P.y+H/2)+') rotate(-90)'},cb);
  if(cfg.type==='cwt'){ct.textContent='WCWT  (';const m=el('tspan',{'font-style':'italic'},ct);m.textContent='μ';
    const r=el('tspan',{},ct);r.textContent='g/m';const s=el('tspan',{'font-size':11,dy:-6},ct);s.textContent='3';const e=el('tspan',{dy:6},ct);e.textContent=')';}
  else ct.textContent=cfg.type==='traj'?'Height (m)':'WPSCF';
  
  
});
</script>
</body></html>
